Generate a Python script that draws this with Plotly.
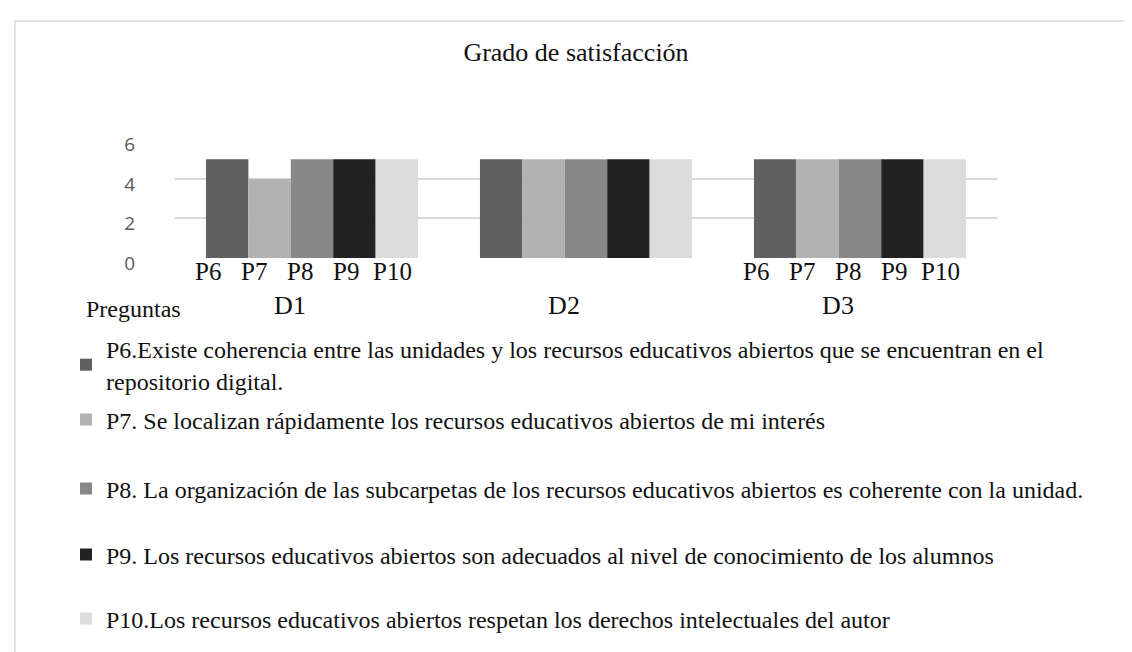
import plotly.graph_objects as go

dimensions = ["D1", "D2", "D3"]
questions = ["P6", "P7", "P8", "P9", "P10"]
legend_labels = [
    "P6.Existe coherencia entre las unidades y los recursos educativos abiertos que se encuentran en el<br>repositorio digital.",
    "P7. Se localizan rápidamente los recursos educativos abiertos de mi interés",
    "P8. La organización de las subcarpetas de los recursos educativos abiertos es coherente con la unidad.",
    "P9. Los recursos educativos abiertos son adecuados al nivel de conocimiento de los alumnos",
    "P10.Los recursos educativos abiertos respetan los derechos intelectuales del autor",
]
# values[question] -> one value per dimension
values = {
    "P6": [5, 5, 5],
    "P7": [4, 5, 5],
    "P8": [5, 5, 5],
    "P9": [5, 5, 5],
    "P10": [5, 5, 5],
}
# dimensions whose question labels are visible in the reference
labelled_dimensions = ["D1", "D3"]
colors = ["#606060", "#b2b2b2", "#888888", "#222222", "#dcdcdc"]
y_ticks = [0, 2, 4, 6]

serif = "Liberation Serif, Times New Roman, serif"
W, H = 1132, 652
L, R, T, B = 167, 143, 131, 402
PW, PH = W - L - R, H - T - B
BARGAP = 0.226
# vertical centre (px from top) of each legend entry
legend_centres = [357, 412, 481, 547, 611]

fig = go.Figure()
legend_layout = {}
for i, q in enumerate(questions):
    key = "legend" if i == 0 else f"legend{i + 1}"
    fig.add_trace(go.Bar(
        x=dimensions,
        y=values[q],
        name=legend_labels[i],
        marker=dict(color=colors[i], line=dict(width=0)),
        legend=key,
    ))
    legend_layout[key] = dict(
        orientation="v", x=58 / W, xref="container", xanchor="left",
        y=1 - legend_centres[i] / H, yref="container", yanchor="middle",
        font=dict(family=serif, size=24, color="#111"),
        itemwidth=30, bgcolor="rgba(0,0,0,0)")

# question labels under each bar, positioned through the category scale
n = len(questions)
bw = (1 - BARGAP) / n
for d in labelled_dimensions:
    di = dimensions.index(d)
    for i, q in enumerate(questions):
        fig.add_annotation(
            x=di - (1 - BARGAP) / 2 + bw * (i + 0.5), y=0,
            xref="x", yref="y", text=q, showarrow=False,
            yanchor="top", yshift=2, xshift=-12 + (i - 2) * 3.6,
            font=dict(family=serif, size=25, color="#111"))

fig.update_layout(
    width=W, height=H,
    paper_bgcolor="white", plot_bgcolor="white",
    margin=dict(l=L, r=R, t=T, b=B, autoexpand=False),
    barmode="group", bargap=BARGAP, bargroupgap=0,
    title=dict(text="Grado de satisfacción", x=568 / W, xref="container",
               xanchor="center",
               y=1 - 44 / H, yref="container", yanchor="middle",
               font=dict(family=serif, size=26, color="#111")),
    showlegend=True,
    xaxis=dict(type="category", showline=False, showgrid=False,
               ticks="", ticklabelstandoff=29, ticklabelshift=-22,
               tickfont=dict(family=serif, size=26, color="#111")),
    yaxis=dict(range=[0, 6.02], tickvals=y_ticks, showgrid=True,
               gridcolor="#d9d9d9", gridwidth=1.5, zeroline=False,
               showline=False, ticks="", ticklabelstandoff=39,
               ticklabelshift=5,
               tickfont=dict(family="Open Sans, sans-serif", size=19, color="#595959")),
    **legend_layout,
)

fig.add_annotation(text="Preguntas", xref="paper", yref="paper",
                   x=(76 - L) / PW, y=(H - B - 301) / PH, xanchor="left",
                   yanchor="middle", showarrow=False,
                   font=dict(family=serif, size=24, color="#111"))

# chart frame
top_y = (H - B - 13) / PH
left_x = (7 - L) / PW
fig.add_shape(type="line", xref="paper", yref="paper",
              x0=left_x, x1=(W - L) / PW, y0=top_y, y1=top_y,
              line=dict(color="#d9d9d9", width=1.5))
fig.add_shape(type="line", xref="paper", yref="paper",
              x0=left_x, x1=left_x, y0=top_y, y1=-(B + 10) / PH,
              line=dict(color="#d9d9d9", width=1.5))

fig.write_html("out.html")
